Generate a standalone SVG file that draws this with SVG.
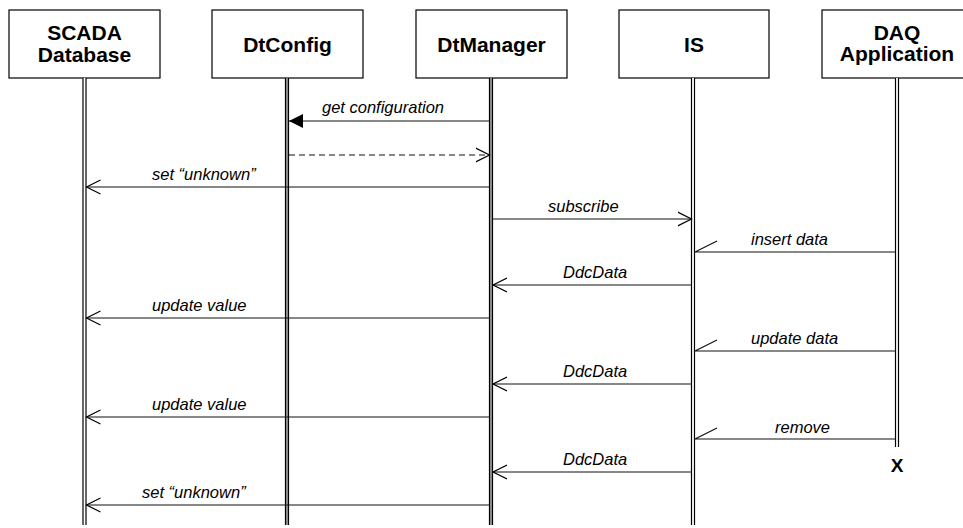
<svg xmlns="http://www.w3.org/2000/svg" width="963" height="528" viewBox="0 0 963 528">
  <style>
    .box { fill: #fff; stroke: #000; stroke-width: 1.2; }
    .title { font-family: "Liberation Sans", Arial, sans-serif; font-weight: bold; font-size: 21px; fill: #000; text-anchor: middle; }
    .life { stroke: #000; stroke-width: 1.2; }
    .msg { stroke: #111; stroke-width: 1.2; fill: none; }
    .dash { stroke-dasharray: 6 4; }
    .lbl { font-family: "Liberation Sans", Arial, sans-serif; font-style: italic; font-size: 16.5px; fill: #000; }
    .kill { font-family: "Liberation Sans", Arial, sans-serif; font-weight: bold; font-size: 19px; fill: #000; text-anchor: middle; }
  </style>
  <defs>
    <marker id="open" markerWidth="16" markerHeight="16" refX="14" refY="8" orient="auto" markerUnits="userSpaceOnUse">
      <path d="M0,1 L14,8 L0,15" fill="none" stroke="#000" stroke-width="1.2"/>
    </marker>
    <marker id="filled" markerWidth="16" markerHeight="16" refX="14" refY="8" orient="auto" markerUnits="userSpaceOnUse">
      <path d="M0,1 L14,8 L0,15 Z" fill="#000"/>
    </marker>
  </defs>
  <rect width="963" height="528" fill="#fff"/>

  <!-- participants: head box plus lifeline -->
  <g id="scada">
    <rect class="box" x="9" y="10" width="151" height="68"/>
    <text class="title" x="84.5" y="40">SCADA</text>
    <text class="title" x="84.5" y="62">Database</text>
    <rect x="83" y="78" width="3" height="447" fill="#fff"/>
    <line class="life" x1="83" y1="78" x2="83" y2="525"/>
    <line class="life" x1="86" y1="78" x2="86" y2="525"/>
  </g>
  <g id="dtconfig">
    <rect class="box" x="212" y="10" width="151" height="68"/>
    <text class="title" x="287.5" y="52">DtConfig</text>
    <rect x="285.5" y="78" width="3" height="447" fill="#999"/>
    <line class="life" x1="285.5" y1="78" x2="285.5" y2="525"/>
    <line class="life" x1="288.5" y1="78" x2="288.5" y2="525"/>
  </g>
  <g id="dtmanager">
    <rect class="box" x="416" y="10" width="151" height="68"/>
    <text class="title" x="491.5" y="52">DtManager</text>
    <rect x="489.5" y="78" width="3" height="447" fill="#999"/>
    <line class="life" x1="489.5" y1="78" x2="489.5" y2="525"/>
    <line class="life" x1="492.5" y1="78" x2="492.5" y2="525"/>
  </g>
  <g id="is">
    <rect class="box" x="619" y="10" width="150" height="68"/>
    <text class="title" x="694" y="52">IS</text>
    <rect x="691.5" y="78" width="3" height="447" fill="#fff"/>
    <line class="life" x1="691.5" y1="78" x2="691.5" y2="525"/>
    <line class="life" x1="694.5" y1="78" x2="694.5" y2="525"/>
  </g>
  <g id="daq">
    <rect class="box" x="822" y="10" width="151" height="68"/>
    <text class="title" x="897" y="40">DAQ</text>
    <text class="title" x="897" y="61">Application</text>
    <rect x="895.5" y="78" width="3" height="369" fill="#fff"/>
    <line class="life" x1="895.5" y1="78" x2="895.5" y2="447"/>
    <line class="life" x1="898.5" y1="78" x2="898.5" y2="447"/>
    <text class="kill" x="897" y="472">X</text>
  </g>

  <!-- messages -->
  <g id="connectors">
    <line class="msg" x1="490" y1="121" x2="289" y2="121" marker-end="url(#filled)"/>
    <line class="msg dash" x1="289" y1="155" x2="489.5" y2="155" marker-end="url(#open)"/>
    <line class="msg" x1="490" y1="187" x2="86.5" y2="187" marker-end="url(#open)"/>
    <line class="msg" x1="493" y1="219" x2="691.5" y2="219" marker-end="url(#open)"/>
    <path class="msg" d="M896,252 H695 L717,241"/>
    <line class="msg" x1="692" y1="285" x2="493" y2="285" marker-end="url(#open)"/>
    <line class="msg" x1="490" y1="318" x2="86.5" y2="318" marker-end="url(#open)"/>
    <path class="msg" d="M896,351 H695 L717,340"/>
    <line class="msg" x1="692" y1="384" x2="493" y2="384" marker-end="url(#open)"/>
    <line class="msg" x1="490" y1="417" x2="86.5" y2="417" marker-end="url(#open)"/>
    <path class="msg" d="M896,439 H695 L717,428"/>
    <line class="msg" x1="692" y1="472" x2="493" y2="472" marker-end="url(#open)"/>
    <line class="msg" x1="490" y1="505" x2="86.5" y2="505" marker-end="url(#open)"/>
  </g>

  <!-- message labels -->
  <g id="labels">
    <text class="lbl" x="322" y="113">get configuration</text>
    <text class="lbl" x="152" y="180">set “unknown”</text>
    <text class="lbl" x="548" y="212">subscribe</text>
    <text class="lbl" x="751" y="245">insert data</text>
    <text class="lbl" x="563" y="278">DdcData</text>
    <text class="lbl" x="152" y="311">update value</text>
    <text class="lbl" x="751" y="344">update data</text>
    <text class="lbl" x="563" y="377">DdcData</text>
    <text class="lbl" x="152" y="410">update value</text>
    <text class="lbl" x="775" y="433">remove</text>
    <text class="lbl" x="563" y="465">DdcData</text>
    <text class="lbl" x="142" y="498">set “unknown”</text>
  </g>
</svg>
